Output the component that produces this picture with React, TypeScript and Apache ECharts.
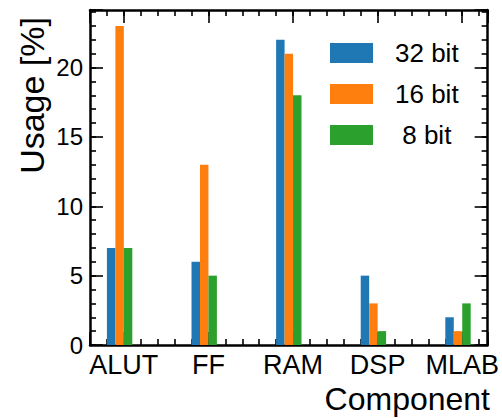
import React, { useEffect, useRef } from "react";
import * as echarts from "echarts";

const categories = ["ALUT", "FF", "RAM", "DSP", "MLAB"];
const seriesNames = ["32 bit", "16 bit", "8 bit"];
const bit32 = [7, 6, 22, 5, 2];
const bit16 = [23, 13, 21, 3, 1];
const bit8 = [7, 5, 18, 1, 3];
const colors = ["#1f77b4", "#ff7f0e", "#2ca02c"];

const FONT = "Liberation Sans";

export default function App() {
  const ref = useRef<HTMLDivElement>(null);
  useEffect(() => {
    if (!ref.current) return;
    const chart = echarts.init(ref.current, null, { renderer: "svg" });
    const values = [bit32, bit16, bit8];
    const offsets = [-0.15, -0.05, 0.05];
    const half = 0.05;

    const tickStyle = { color: "#000", width: 1.6 };
    const frameLine = { show: true, onZero: false, lineStyle: { color: "#000", width: 2.5 } };
    const xRange = { min: -0.4, max: 4.3 };
    const yRange = { min: 0, max: 24.15 };

    const catLabel = (v: number) => {
      const r = Math.round(v);
      return Math.abs(v - r) < 1e-6 && r >= 0 && r < categories.length ? categories[r] : "";
    };

    const option: any = {
      animation: false,
      color: colors,
      grid: { left: 90, top: 10, width: 399, height: 335 },
      xAxis: [
        {
          type: "value", position: "bottom", ...xRange, splitNumber: 5,
          axisLine: frameLine,
          axisTick: { show: true, inside: true, length: 13, lineStyle: tickStyle },
          axisLabel: { show: true, margin: 6, formatter: catLabel, color: "#000", fontFamily: FONT, fontSize: 27 },
          splitLine: { show: false },
        },
        {
          type: "value", position: "bottom", ...xRange, interval: 0.2,
          axisLine: { show: false, onZero: false },
          axisTick: { show: true, inside: true, length: 6, lineStyle: tickStyle },
          axisLabel: { show: false }, splitLine: { show: false },
        },
        {
          type: "value", position: "top", ...xRange, splitNumber: 5,
          axisLine: frameLine,
          axisTick: { show: true, inside: true, length: 13, lineStyle: tickStyle },
          axisLabel: { show: false }, splitLine: { show: false },
        },
        {
          type: "value", position: "top", ...xRange, interval: 0.2,
          axisLine: { show: false, onZero: false },
          axisTick: { show: true, inside: true, length: 6, lineStyle: tickStyle },
          axisLabel: { show: false }, splitLine: { show: false },
        },
      ],
      yAxis: [
        {
          type: "value", position: "left", ...yRange, interval: 5,
          axisLine: frameLine,
          axisTick: { show: true, inside: true, length: 13, lineStyle: tickStyle },
          axisLabel: {
            show: true, margin: 7, color: "#000", fontFamily: FONT, fontSize: 24,
            formatter: (v: number) => (Math.abs(v % 5) < 1e-6 ? String(v) : ""),
          },
          splitLine: { show: false },
        },
        {
          type: "value", position: "left", ...yRange, interval: 1,
          axisLine: { show: false, onZero: false },
          axisTick: { show: true, inside: true, length: 6, lineStyle: tickStyle },
          axisLabel: { show: false }, splitLine: { show: false },
        },
        {
          type: "value", position: "right", ...yRange, interval: 5,
          axisLine: frameLine,
          axisTick: { show: true, inside: true, length: 13, lineStyle: tickStyle },
          axisLabel: { show: false }, splitLine: { show: false },
        },
        {
          type: "value", position: "right", ...yRange, interval: 1,
          axisLine: { show: false, onZero: false },
          axisTick: { show: true, inside: true, length: 6, lineStyle: tickStyle },
          axisLabel: { show: false }, splitLine: { show: false },
        },
      ],
      legend: {
        orient: "vertical", left: 325, top: 35,
        itemWidth: 43, itemHeight: 20, itemGap: 15, icon: "rect",
        data: seriesNames,
        formatter: (n: string) => (n === "8 bit" ? " 8 bit" : n),
        textStyle: { fontFamily: FONT, fontSize: 26, color: "#000", padding: [0, 0, 0, 17], lineHeight: 20 },
      },
      series: seriesNames.map((name, s) => ({
        name,
        type: "custom",
        xAxisIndex: 0,
        yAxisIndex: 0,
        itemStyle: { color: colors[s] },
        encode: { x: 0, y: 1 },
        data: categories.map((_, i) => [i + offsets[s], values[s][i]]),
        renderItem: (params: any, api: any) => {
          const x = api.value(0);
          const y = api.value(1);
          const tl = api.coord([x - half, y]);
          const br = api.coord([x + half, 0]);
          return {
            type: "rect",
            shape: { x: tl[0], y: tl[1], width: br[0] - tl[0], height: br[1] - tl[1] },
            style: api.style(),
          };
        },
      })),
      graphic: [
        {
          type: "text", x: 32, y: 17, rotation: Math.PI / 2,
          style: { text: "Usage [%]", fontFamily: FONT, fontSize: 34, fill: "#000", align: "right", verticalAlign: "middle" },
        },
        {
          type: "text", x: 490, y: 399,
          style: { text: "Component", fontFamily: FONT, fontSize: 32, fill: "#000", align: "right", verticalAlign: "middle" },
        },
      ],
    };
    chart.setOption(option);
    return () => chart.dispose();
  }, []);
  return (
    <div
      ref={ref}
      style={{ position: "fixed", left: 0, top: 0, width: 502, height: 418, background: "#fff" }}
    />
  );
}
